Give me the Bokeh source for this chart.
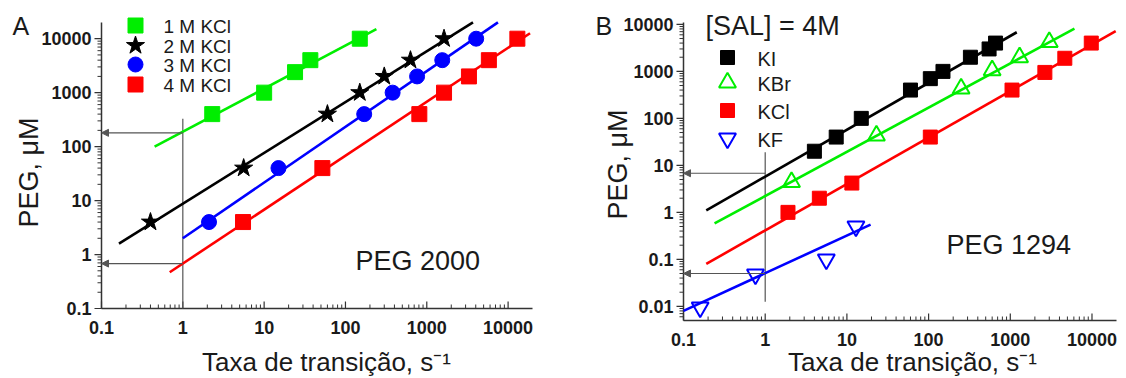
import math
from bokeh.plotting import figure
from bokeh.layouts import row
from bokeh.models import Label, Arrow, NormalHead
from bokeh.core.properties import value
from bokeh.embed import file_html
from bokeh.resources import INLINE

FONT = "Liberation Sans"

# ---------------- Panel A data (PEG 2000, KCl concentrations) ----------------
a_series = ["1 M KCl", "2 M KCl", "3 M KCl", "4 M KCl"]
a_colors = ["#00ee00", "#000000", "#0000ff", "#ff0000"]
a_markers = ["square", "star", "circle", "square"]

kcl1_x = [2.3, 10, 24, 37, 150]
kcl1_y = [400, 1000, 2400, 4000, 10000]
kcl2_x = [0.4, 5.6, 60, 150, 300, 630, 1630]
kcl2_y = [4, 40, 400, 1000, 2000, 4000, 10000]
kcl3_x = [2.1, 15, 170, 380, 760, 1550, 4050]
kcl3_y = [4, 40, 400, 1000, 2000, 4000, 10000]
kcl4_x = [5.5, 52, 810, 1630, 3300, 5800, 13000]
kcl4_y = [4, 40, 400, 1000, 2000, 4000, 10000]

# fitted lines (start, end)
fit1_x = [0.45, 240]
fit1_y = [100, 15000]
fit2_x = [0.164, 3700]
fit2_y = [1.6, 20000]
fit3_x = [1.0, 7500]
fit3_y = [2.0, 20000]
fit4_x = [0.69, 18600]
fit4_y = [0.47, 12600]

a_readout_y = [180, 0.68]     # PEG at rate = 1 s^-1 (arrows)
a_guide_y = [330, 0.1]         # vertical guide at rate 1

# ---------------- Panel B data (PEG 1294, [SAL] = 4M) ----------------
b_series = ["KI", "KBr", "KCl", "KF"]
b_colors = ["#000000", "#00ee00", "#ff0000", "#0000ff"]

ki_x = [4, 7.4, 15, 60, 105, 150, 325, 550, 660]
ki_y = [20, 40, 100, 400, 700, 1000, 2000, 3000, 4000]
kbr_x = [2.1, 23, 250, 600, 1300, 3000]
kbr_y = [4.4, 43, 430, 1050, 2000, 4200]
kclb_x = [1.9, 4.6, 11.5, 105, 1050, 2650, 4650, 9800]
kclb_y = [1, 2, 4.2, 40, 400, 950, 1900, 4000]
kf_x = [0.16, 0.76, 5.6, 12.9]
kf_y = [0.0095, 0.048, 0.1, 0.5]

fki_x = [0.19, 1200]
fki_y = [1.1, 6800]
fkbr_x = [0.24, 6100]
fkbr_y = [0.58, 8100]
fkcl_x = [0.19, 19500]
fkcl_y = [0.08, 7200]
fkf_x = [0.1, 19.5]
fkf_y = [0.008, 0.55]

b_readout_y = [6.8, 0.05]
b_guide_y = [19, 0.0125]

x_ticks = [0.1, 1, 10, 100, 1000, 10000]
ya_ticks = [0.1, 1, 10, 100, 1000, 10000]
yb_ticks = [0.01, 0.1, 1, 10, 100, 1000, 10000]

# axis extents
a_xbounds = (0.1, 10 ** 4.3)
a_ybounds = (0.1, 10 ** 4.3)
b_xbounds = (0.1, 10 ** 4.3)
b_ybounds = (0.005, 10 ** 4.04)

AXIS_COLOR = "#333333"
TEXT_COLOR = "#1a1a1a"
guide = "#555555"
FIG_H = 378


def fmt(v):
    e = round(math.log10(v))
    return str(10 ** e) if e >= 0 else f"{10 ** e:.{-e}f}"


def minors(majors, lo, hi):
    out = []
    for m in majors + [majors[-1] * 10]:
        for k in range(2, 10):
            v = m / 10 * k
            if lo < v <= hi * 1.0001:
                out.append(v)
    return out


class Panel:
    """Figure whose frame fills the whole canvas; axes drawn by hand."""

    def __init__(self, fig_left, fig_top, w, h, ax_left, ax_bottom, ax_right, ax_top, xb, yb):
        self.fl, self.ft, self.w, self.h = fig_left, fig_top, w, h
        self.xb, self.yb = xb, yb
        lx0, lx1 = math.log10(xb[0]), math.log10(xb[1])
        ly0, ly1 = math.log10(yb[0]), math.log10(yb[1])
        pdx = (ax_right - ax_left) / (lx1 - lx0)
        pdy = (ax_bottom - ax_top) / (ly1 - ly0)
        self.lx_left = lx0 - (ax_left - fig_left) / pdx
        self.lx_right = lx0 + (fig_left + w - ax_left) / pdx
        self.ly_bottom = ly0 - (fig_top + h - ax_bottom) / pdy
        self.ly_top = ly0 + (ax_bottom - fig_top) / pdy
        p = figure(width=w, height=h, x_axis_type="log", y_axis_type="log",
                   x_range=(10 ** self.lx_left, 10 ** self.lx_right),
                   y_range=(10 ** self.ly_bottom, 10 ** self.ly_top),
                   x_axis_location=None, y_axis_location=None,
                   output_backend="svg", toolbar_location=None,
                   min_border=0, min_border_left=0, min_border_right=0,
                   min_border_top=0, min_border_bottom=0)
        p.outline_line_color = None
        p.grid.visible = False
        p.background_fill_color = "white"
        p.border_fill_color = "white"
        self.p = p

    def page2data(self, px, py):
        fx = (px - self.fl) / self.w
        fy = (self.ft + self.h - py) / self.h
        return (10 ** (self.lx_left + fx * (self.lx_right - self.lx_left)),
                10 ** (self.ly_bottom + fy * (self.ly_top - self.ly_bottom)))

    def data2page(self, x, y):
        fx = (math.log10(x) - self.lx_left) / (self.lx_right - self.lx_left)
        fy = (math.log10(y) - self.ly_bottom) / (self.ly_top - self.ly_bottom)
        return self.fl + fx * self.w, self.ft + self.h - fy * self.h

    def label(self, px, py, text, size, align="left", angle=0.0):
        # py: page y of the visual centre of the text
        self.p.add_layout(Label(x=px - self.fl, y=self.ft + self.h - py,
                                x_units="screen", y_units="screen", text=text,
                                text_font=FONT, text_font_size=size, text_align=align,
                                text_baseline="middle", angle=angle, text_color=TEXT_COLOR))

    def axes(self, xt, yt, xlab_gap, ylab_gap):
        p, xb, yb = self.p, self.xb, self.yb
        p.segment(x0=[xb[0], xb[0]], y0=[yb[0], yb[0]], x1=[xb[1], xb[0]], y1=[yb[0], yb[1]],
                  line_color=AXIS_COLOR, line_width=1.5)
        p.ray(x=xt, y=[yb[0]] * len(xt), length=7, length_units="screen", angle=math.pi / 2,
              line_color=AXIS_COLOR, line_width=1.2)
        xm = minors(xt, xb[0], xb[1])
        p.ray(x=xm, y=[yb[0]] * len(xm), length=4, length_units="screen", angle=math.pi / 2,
              line_color=AXIS_COLOR, line_width=1)
        p.ray(x=[xb[0]] * len(yt), y=yt, length=7, length_units="screen", angle=math.pi,
              line_color=AXIS_COLOR, line_width=1.2)
        ym = minors(yt, yb[0], yb[1])
        p.ray(x=[xb[0]] * len(ym), y=ym, length=4, length_units="screen", angle=math.pi,
              line_color=AXIS_COLOR, line_width=1)
        _, axis_py = self.data2page(xb[0], yb[0])
        _, ly = self.page2data(0, axis_py + xlab_gap)
        p.text(x=xt, y=[ly] * len(xt), text=[fmt(v) for v in xt],
               text_font=value(FONT), text_font_style="bold", text_font_size="18px",
               text_color=TEXT_COLOR, text_align="center", text_baseline="middle")
        axis_px, _ = self.data2page(xb[0], yb[0])
        lx, _ = self.page2data(axis_px - ylab_gap, 0)
        p.text(x=[lx] * len(yt), y=yt, text=[fmt(v) for v in yt],
               text_font=value(FONT), text_font_style="bold", text_font_size="18px",
               text_color=TEXT_COLOR, text_align="right", text_baseline="middle")


def arrows(p, ys, x_from, x_to):
    for yv in ys:
        p.add_layout(Arrow(x_start=x_from, y_start=yv, x_end=x_to, y_end=yv,
                           line_color=guide, line_width=1.2,
                           end=NormalHead(size=7, line_color=guide, fill_color=guide)))


# ---------------- Panel A ----------------
A = Panel(0, 0, 590, FIG_H, 101, 308, 532, 22, a_xbounds, a_ybounds)
pa = A.p
A.axes(x_ticks, ya_ticks, 19, 10)
pa.segment(x0=[1], y0=[a_guide_y[0]], x1=[1], y1=[a_guide_y[1]], line_color=guide, line_width=1.2)
arrows(pa, a_readout_y, 1, a_xbounds[0])

a_fits = [(fit1_x, fit1_y), (fit2_x, fit2_y), (fit3_x, fit3_y), (fit4_x, fit4_y)]
a_pts = [(kcl1_x, kcl1_y), (kcl2_x, kcl2_y), (kcl3_x, kcl3_y), (kcl4_x, kcl4_y)]
a_sizes = [15, 19, 15, 15]
for (fx, fy), (px, py), c, m, s in zip(a_fits, a_pts, a_colors, a_markers, a_sizes):
    pa.line(fx, fy, line_color=c, line_width=2.6)
    pa.scatter(px, py, marker=m, size=s, fill_color=c, line_color=c)

# legend A (page pixel layout)
a_leg_rows = [25, 45, 64, 84]
for name, c, m, s, ry in zip(a_series, a_colors, a_markers, a_sizes, a_leg_rows):
    lx, ly = A.page2data(135, ry)
    pa.scatter([lx], [ly], marker=m, size=s, fill_color=c, line_color=c)
    A.label(163, ry + 1, name, "19px")

A.label(12, 25, "A", "25px")
A.label(355, 260, "PEG 2000", "27px")
A.label(326, 361, "Taxa de transição, s⁻¹", "26px", align="center")
A.label(28, 172, "PEG, μM", "27px", align="center", angle=math.pi / 2)

# ---------------- Panel B ----------------
B = Panel(590, 0, 530, FIG_H, 683, 320, 1116, 22, b_xbounds, b_ybounds)
pb = B.p
B.axes(x_ticks, yb_ticks, 19, 10)
pb.segment(x0=[1], y0=[b_guide_y[0]], x1=[1], y1=[b_guide_y[1]], line_color=guide, line_width=1.2)
arrows(pb, b_readout_y, 1, b_xbounds[0])

b_fits = [(fki_x, fki_y), (fkbr_x, fkbr_y), (fkcl_x, fkcl_y), (fkf_x, fkf_y)]
b_pts = [(ki_x, ki_y), (kbr_x, kbr_y), (kclb_x, kclb_y), (kf_x, kf_y)]
b_markers = ["square", "triangle", "square", "inverted_triangle"]
b_fill = ["#000000", None, "#ff0000", None]
b_sizes = [14, 17, 14, 17]
b_lw = [1, 2, 1, 2]
for (fx, fy), (px, py), c, m, f, s, lw in zip(b_fits, b_pts, b_colors, b_markers, b_fill, b_sizes, b_lw):
    pb.line(fx, fy, line_color=c, line_width=2.6)
    pb.scatter(px, py, marker=m, size=s, fill_color=f, line_color=c, line_width=lw)

b_leg_rows = [57, 82, 110, 138]
for name, c, m, f, s, lw, ry in zip(b_series, b_colors, b_markers, b_fill, b_sizes, b_lw, b_leg_rows):
    lx, ly = B.page2data(727, ry)
    pb.scatter([lx], [ly], marker=m, size=s, fill_color=f, line_color=c, line_width=lw)
    B.label(757, ry + 1, name, "20px")

B.label(595, 25, "B", "25px")
B.label(705, 25, "[SAL] = 4M", "27px")
B.label(946, 244, "PEG 1294", "27px")
B.label(912, 361, "Taxa de transição, s⁻¹", "26px", align="center")
B.label(617, 164, "PEG, μM", "27px", align="center", angle=math.pi / 2)

layout = row(pa, pb)
open("out.html", "w").write(file_html(layout, INLINE))
